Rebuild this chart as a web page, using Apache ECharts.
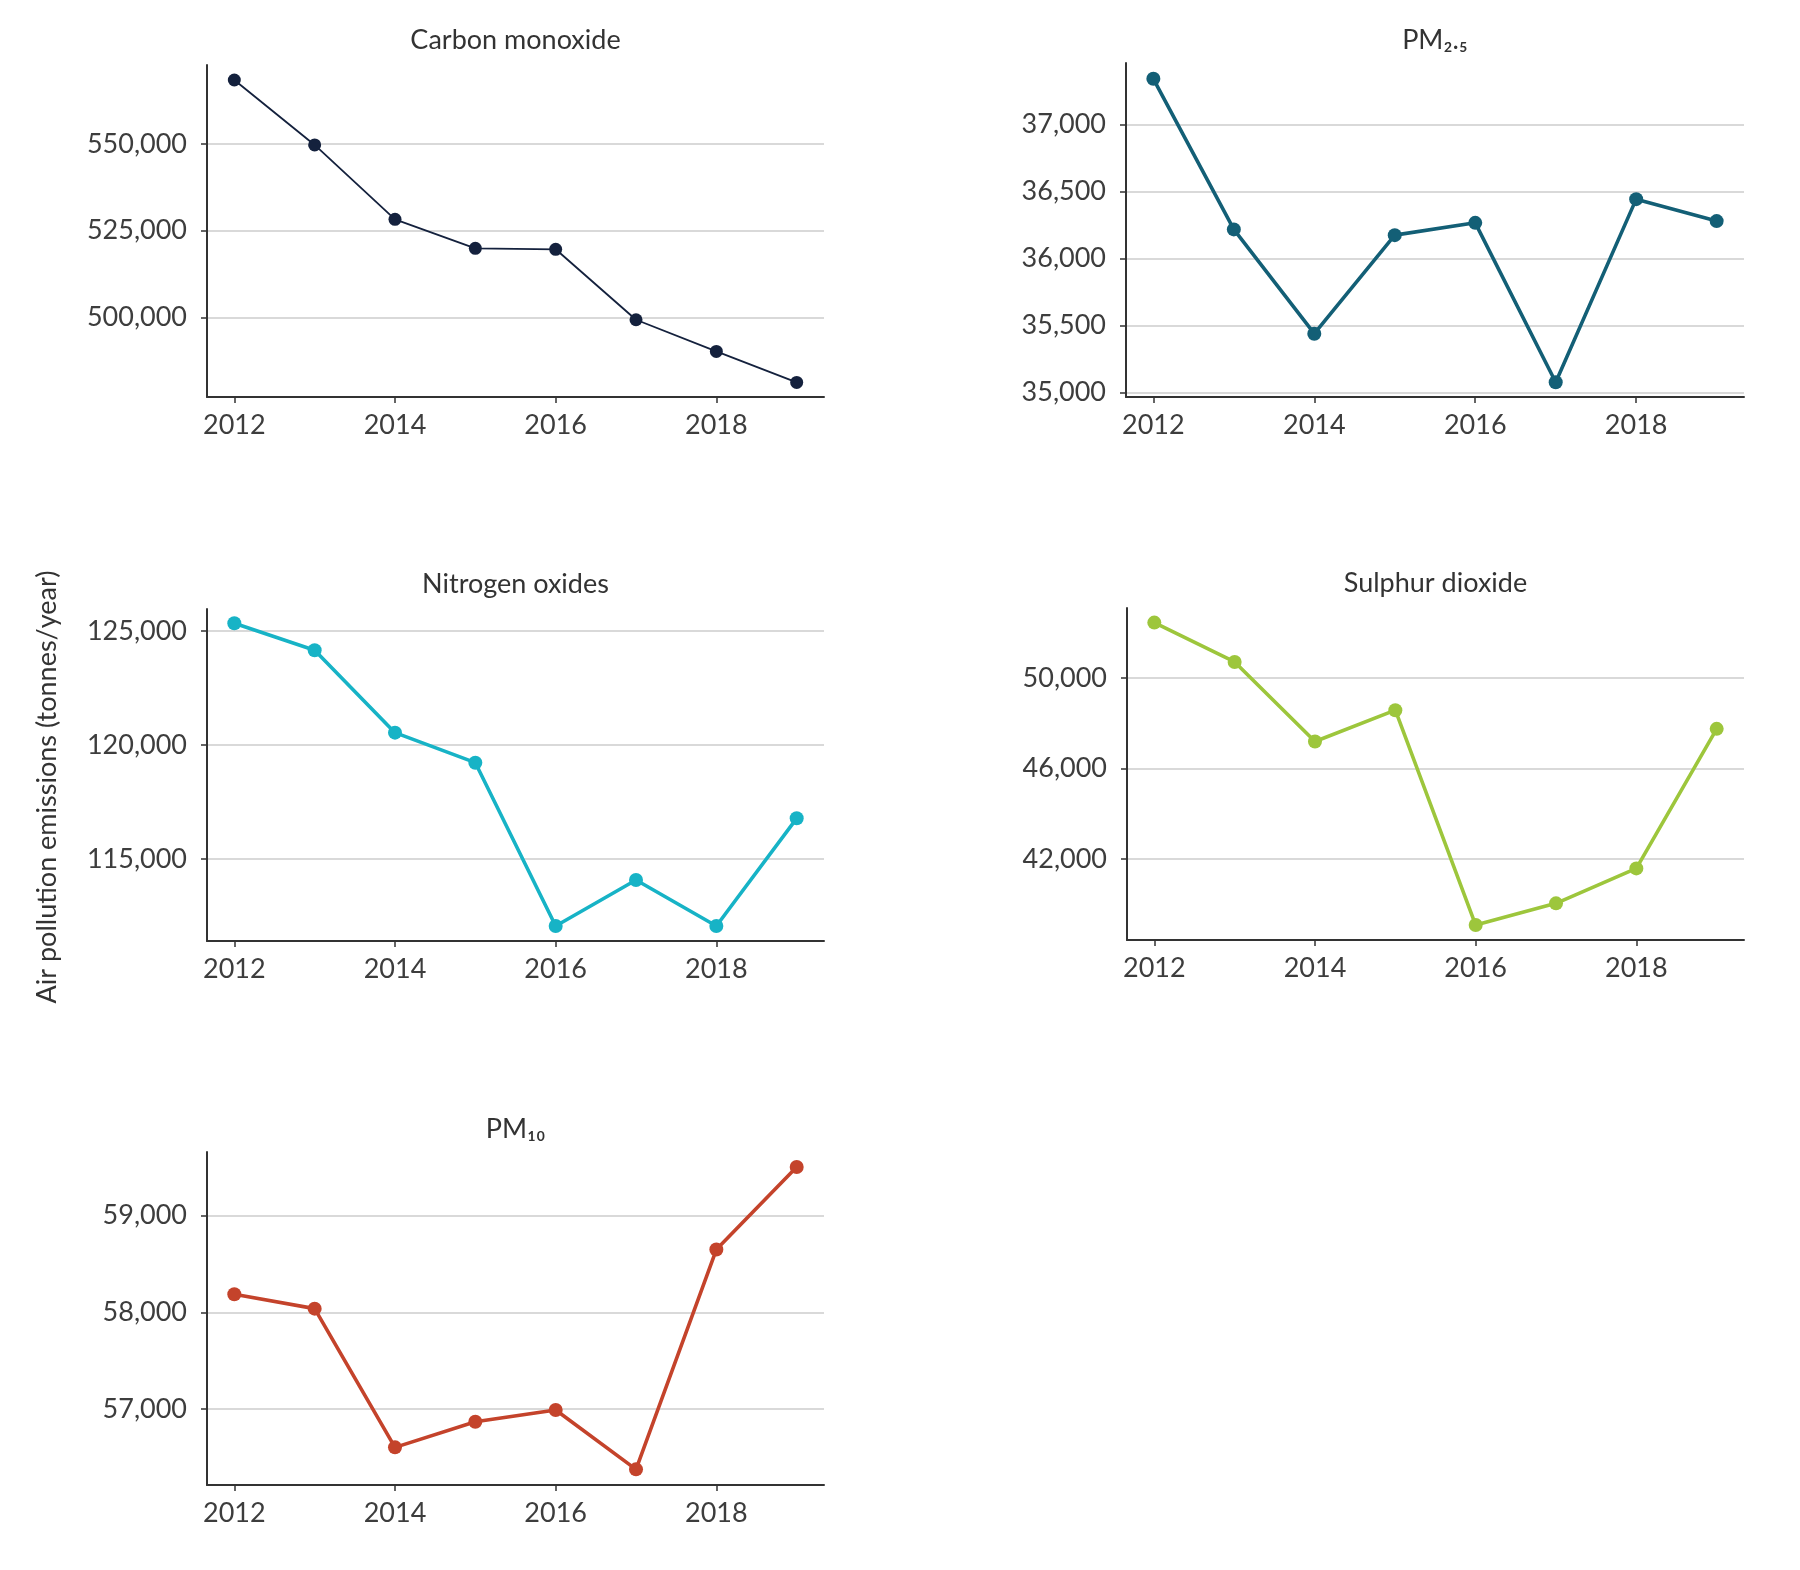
<!DOCTYPE html>
<html>
<head>
<meta charset="utf-8">
<script src="https://cdn.jsdelivr.net/npm/echarts@6/dist/echarts.min.js"></script>
<style>
  html, body { margin: 0; padding: 0; background: #ffffff; }
  #chart { width: 1800px; height: 1570px; }
</style>
</head>
<body>
<div id="chart"></div>
<script>
// ---- Data ----
const years = [2012, 2013, 2014, 2015, 2016, 2017, 2018, 2019];
const yearTicks = [2012, 2014, 2016, 2018];

const carbonMonoxide = [568433, 549712, 528283, 519931, 519643, 499338, 490207, 481279];
const pm25 = [37342, 36217, 35438, 36174, 36266, 35075, 36443, 36279];
const nitrogenOxides = [125338, 124154, 120541, 119225, 112061, 114079, 112061, 116785];
const sulphurDioxide = [52443, 50706, 47191, 48575, 39089, 40046, 41590, 47751];
const pm10 = [58186, 58038, 56604, 56869, 56990, 56377, 58649, 59502];

const coTicks = [500000, 525000, 550000];
const pm25Ticks = [35000, 35500, 36000, 36500, 37000];
const noxTicks = [115000, 120000, 125000];
const so2Ticks = [42000, 46000, 50000];
const pm10Ticks = [57000, 58000, 59000];

const titles = ['Carbon monoxide', 'PM\u2082.\u2085', 'Nitrogen oxides', 'Sulphur dioxide', 'PM\u2081\u2080'];
const yAxisTitle = 'Air pollution emissions (tonnes/year)';

// ---- Layout / style ----
const FONT = 'Lato, "Noto Sans", sans-serif';
const TEXT = '#3d3d3d';
const FS = 27;
const panels = [
  { data: carbonMonoxide, ticks: coTicks, color: '#14213d', width: 1.8, size: 13,
    grid: { left: 207, top: 65, width: 617, height: 332 }, yMin: 477074, yMax: 572753, titleY: 40 },
  { data: pm25, ticks: pm25Ticks, color: '#135f76', width: 3.6, size: 14,
    grid: { left: 1126, top: 63, width: 618, height: 334 }, yMin: 34965, yMax: 37460, titleY: 40 },
  { data: nitrogenOxides, ticks: noxTicks, color: '#17b3c6', width: 3.6, size: 14,
    grid: { left: 207, top: 609, width: 617, height: 332 }, yMin: 111404, yMax: 125965, titleY: 584 },
  { data: sulphurDioxide, ticks: so2Ticks, color: '#9dc63c', width: 3.6, size: 14,
    grid: { left: 1127, top: 608, width: 617, height: 332 }, yMin: 38428, yMax: 53087, titleY: 583 },
  { data: pm10, ticks: pm10Ticks, color: '#c4432b', width: 3.6, size: 14,
    grid: { left: 207, top: 1152, width: 617, height: 333 }, yMin: 56215, yMax: 59657, titleY: 1129 }
];

const fmt = v => Math.round(v).toLocaleString('en-US');

const option = {
  animation: false,
  backgroundColor: '#ffffff',
  title: panels.map((p, i) => ({
    text: titles[i],
    left: p.grid.left + p.grid.width / 2,
    top: p.titleY,
    padding: 0,
    textAlign: 'center',
    textVerticalAlign: 'middle',
    textStyle: { fontFamily: FONT, fontSize: FS, fontWeight: 'normal', color: '#333333' }
  })),
  grid: panels.map(p => Object.assign({ containLabel: false }, p.grid)),
  xAxis: panels.map((p, i) => ({
    type: 'value',
    gridIndex: i,
    min: 2011.66,
    max: 2019.34,
    axisLine: { show: true, onZero: false, lineStyle: { color: '#333333', width: 2 } },
    axisTick: { show: true, customValues: yearTicks, length: 6, lineStyle: { color: '#333333', width: 1.5 } },
    axisLabel: { customValues: yearTicks, formatter: v => String(v), fontFamily: FONT, fontSize: FS, color: TEXT, margin: 15 },
    splitLine: { show: false }
  })),
  yAxis: panels.map((p, i) => ({
    type: 'value',
    gridIndex: i,
    min: p.yMin,
    max: p.yMax,
    axisLine: { show: true, onZero: false, lineStyle: { color: '#333333', width: 2 } },
    axisTick: { show: true, customValues: p.ticks, length: 6, lineStyle: { color: '#333333', width: 1.5 } },
    axisLabel: { customValues: p.ticks, formatter: fmt, fontFamily: FONT, fontSize: FS, color: TEXT, margin: 20 },
    splitLine: { show: true, lineStyle: { color: '#d9d9d9', width: 2 } }
  })),
  series: panels.map((p, i) => ({
    type: 'line',
    xAxisIndex: i,
    yAxisIndex: i,
    data: years.map((y, k) => [y, p.data[k]]),
    symbol: 'circle',
    symbolSize: p.size,
    showAllSymbol: true,
    lineStyle: { color: p.color, width: p.width },
    itemStyle: { color: p.color },
    z: 3
  })),
  graphic: [{
    type: 'text',
    x: 47,
    y: 787,
    rotation: Math.PI / 2,
    style: {
      text: yAxisTitle,
      fontFamily: FONT,
      fontSize: FS,
      fill: '#333333',
      textAlign: 'center',
      textVerticalAlign: 'middle'
    }
  }]
};

const chart = echarts.init(document.getElementById('chart'), null, { renderer: 'canvas' });
chart.setOption(option);
</script>
</body>
</html>
